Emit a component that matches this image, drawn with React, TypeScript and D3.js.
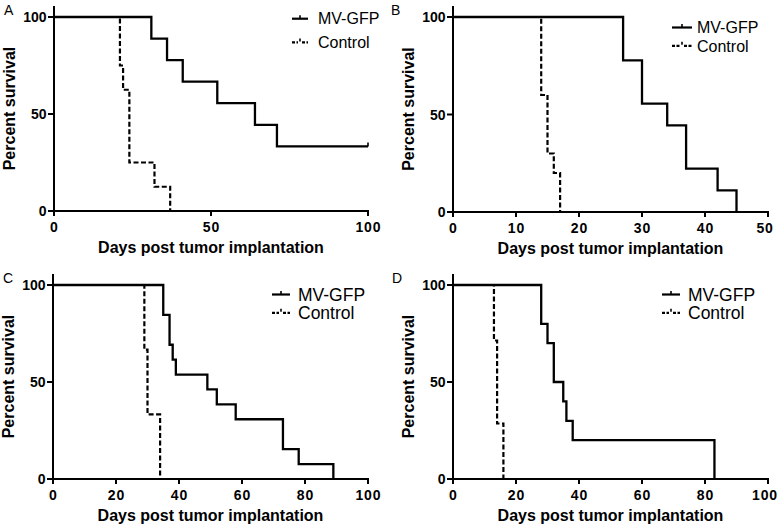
import React from "react";
import * as d3 from "d3";

// ---------- DATA ----------
const A_MV_TIMES = [0, 31, 36, 41, 52, 64, 71, 100];
const A_MV_SURV = [100, 88.9, 77.8, 66.7, 55.6, 44.4, 33.3, 33.3];
const A_CTRL_TIMES = [0, 21, 22, 24, 32, 37];
const A_CTRL_SURV = [100, 75, 62.5, 25, 12.5, 0];
const A_CENSOR = [100];

const B_MV_TIMES = [0, 27, 30, 34, 37, 42, 45];
const B_MV_SURV = [100, 77.8, 55.6, 44.4, 22.2, 11.1, 0];
const B_CTRL_TIMES = [0, 14, 15, 16, 17];
const B_CTRL_SURV = [100, 60, 30, 20, 0];

const C_MV_TIMES = [0, 35, 37, 38, 39, 49, 52, 58, 73, 78, 89];
const C_MV_SURV = [100, 84.6, 69.2, 61.5, 53.8, 46.2, 38.5, 30.8, 15.4, 7.7, 0];
const C_CTRL_TIMES = [0, 29, 30, 34];
const C_CTRL_SURV = [100, 66.7, 33.3, 0];

const D_MV_TIMES = [0, 28, 30, 32, 35, 36, 38, 83];
const D_MV_SURV = [100, 80, 70, 50, 40, 30, 20, 0];
const D_CTRL_TIMES = [0, 13, 14, 16];
const D_CTRL_SURV = [100, 71.4, 28.6, 0];

const PANEL_LETTERS = ["A", "B", "C", "D"];
const SERIES_NAMES = ["MV-GFP", "Control"];
const X_TITLE = "Days post tumor implantation";
const Y_TITLE = "Percent survival";
const Y_TICKS = [0, 50, 100];
const A_X_TICKS = [0, 50, 100];
const B_X_TICKS = [0, 10, 20, 30, 40, 50];
const CD_X_TICKS = [0, 20, 40, 60, 80, 100];

const FONT = "'Liberation Sans', Arial, Helvetica, sans-serif";

type Panel = {
  letter: string;
  letterX: number;
  x0: number;
  x1: number;
  yTop: number;
  yBot: number;
  xMax: number;
  xTicks: number[];
  mvT: number[];
  mvS: number[];
  ctT: number[];
  ctS: number[];
  censor: number[];
  legLine: [number, number];
  legTextX: number;
  legRows: [number, number];
  legFont: number;
};

const panels: Panel[] = [
  {
    letter: PANEL_LETTERS[0], letterX: 4, x0: 54, x1: 368, yTop: 17, yBot: 211, xMax: 100,
    xTicks: A_X_TICKS, mvT: A_MV_TIMES, mvS: A_MV_SURV, ctT: A_CTRL_TIMES, ctS: A_CTRL_SURV,
    censor: A_CENSOR, legLine: [292, 308], legTextX: 318, legRows: [18.7, 42.4], legFont: 16,
  },
  {
    letter: PANEL_LETTERS[1], letterX: 391, x0: 453, x1: 768, yTop: 17, yBot: 212, xMax: 50,
    xTicks: B_X_TICKS, mvT: B_MV_TIMES, mvS: B_MV_SURV, ctT: B_CTRL_TIMES, ctS: B_CTRL_SURV,
    censor: [], legLine: [672, 692], legTextX: 697, legRows: [27.5, 45.8], legFont: 16,
  },
  {
    letter: PANEL_LETTERS[2], letterX: 3, x0: 53, x1: 368, yTop: 285, yBot: 479, xMax: 100,
    xTicks: CD_X_TICKS, mvT: C_MV_TIMES, mvS: C_MV_SURV, ctT: C_CTRL_TIMES, ctS: C_CTRL_SURV,
    censor: [], legLine: [272, 290], legTextX: 298, legRows: [294.5, 312.8], legFont: 17.5,
  },
  {
    letter: PANEL_LETTERS[3], letterX: 392, x0: 453, x1: 768, yTop: 285, yBot: 479, xMax: 100,
    xTicks: CD_X_TICKS, mvT: D_MV_TIMES, mvS: D_MV_SURV, ctT: D_CTRL_TIMES, ctS: D_CTRL_SURV,
    censor: [], legLine: [662, 680], legTextX: 688, legRows: [294.5, 312.8], legFont: 17.5,
  },
];

function PanelView({ p }: { p: Panel }) {
  const x = d3.scaleLinear().domain([0, p.xMax]).range([p.x0, p.x1]);
  const y = d3.scaleLinear().domain([0, 100]).range([p.yBot, p.yTop]);
  const line = d3
    .line<[number, number]>()
    .x((d) => x(d[0]))
    .y((d) => y(d[1]))
    .curve(d3.curveStepAfter);
  const mvPts = p.mvT.map((t, i) => [t, p.mvS[i]] as [number, number]);
  const ctPts = p.ctT.map((t, i) => [t, p.ctS[i]] as [number, number]);
  const axisTop = p.yTop - 11;
  const lastMv = p.mvS[p.mvS.length - 1];
  const [lx1, lx2] = p.legLine;
  const lm = (lx1 + lx2) / 2;
  const capOff = p.legFont * 0.36;
  const ls = 0.8;

  return (
    <g>
      <text x={p.letterX} y={p.yTop - 2} fontFamily={FONT} fontSize={14} fill="#000">
        {p.letter}
      </text>
      {/* curves */}
      <path d={line(ctPts) || ""} fill="none" stroke="#000" strokeWidth={2.2} strokeDasharray="5,2.5" />
      <path d={line(mvPts) || ""} fill="none" stroke="#000" strokeWidth={2.3} />
      {p.censor.map((c, i) => (
        <line key={i} x1={x(c)} x2={x(c)} y1={y(lastMv)} y2={y(lastMv) - 4} stroke="#000" strokeWidth={1.6} />
      ))}
      {/* axes */}
      <line x1={p.x0} x2={p.x0} y1={p.yBot + 1} y2={axisTop} stroke="#000" strokeWidth={2} />
      <line x1={p.x0 - 1} x2={p.x1 + 1} y1={p.yBot} y2={p.yBot} stroke="#000" strokeWidth={2} />
      {Y_TICKS.map((t) => (
        <g key={"y" + t}>
          <line x1={p.x0 - 6} x2={p.x0} y1={y(t)} y2={y(t)} stroke="#000" strokeWidth={2} />
          <text
            x={p.x0 - 7.5}
            y={y(t) + 5}
            textAnchor="end"
            fontFamily={FONT}
            fontWeight="bold"
            fontSize={14}
            fill="#000"
          >
            {t}
          </text>
        </g>
      ))}
      {p.xTicks.map((t) => (
        <g key={"x" + t}>
          <line x1={x(t)} x2={x(t)} y1={p.yBot} y2={p.yBot + 5} stroke="#000" strokeWidth={2} />
          <text
            x={Math.min(x(t) + ls / 2, 765)}
            y={p.yBot + 20.5}
            textAnchor="middle"
            fontFamily={FONT}
            fontWeight="bold"
            fontSize={14}
            letterSpacing={ls}
            fill="#000"
          >
            {t}
          </text>
        </g>
      ))}
      <text
        x={(p.x0 + p.x1) / 2}
        y={p.yBot + 42}
        textAnchor="middle"
        fontFamily={FONT}
        fontWeight="bold"
        fontSize={16}
        fill="#000"
      >
        {X_TITLE}
      </text>
      <text
        transform={`translate(${p.x0 - 39},${(axisTop + p.yBot) / 2}) rotate(-90)`}
        textAnchor="middle"
        fontFamily={FONT}
        fontWeight="bold"
        fontSize={16}
        fill="#000"
      >
        {Y_TITLE}
      </text>
      {/* legend */}
      <line x1={lx1} x2={lx2} y1={p.legRows[0]} y2={p.legRows[0]} stroke="#000" strokeWidth={2.2} />
      <line x1={lm} x2={lm} y1={p.legRows[0]} y2={p.legRows[0] - 3.5} stroke="#000" strokeWidth={1.6} />
      <text x={p.legTextX} y={p.legRows[0] + capOff} fontFamily={FONT} fontSize={p.legFont} fill="#000">
        {SERIES_NAMES[0]}
      </text>
      <line x1={lx1} x2={lm - 2} y1={p.legRows[1]} y2={p.legRows[1]} stroke="#000" strokeWidth={2.2} strokeDasharray="3,1.5" />
      <line x1={lm + 2} x2={lx2} y1={p.legRows[1]} y2={p.legRows[1]} stroke="#000" strokeWidth={2.2} strokeDasharray="3,1.5" />
      <line x1={lm} x2={lm} y1={p.legRows[1] - 1} y2={p.legRows[1] - 4} stroke="#000" strokeWidth={1.6} />
      <text x={p.legTextX} y={p.legRows[1] + capOff} fontFamily={FONT} fontSize={p.legFont} fill="#000">
        {SERIES_NAMES[1]}
      </text>
    </g>
  );
}

export default function App() {
  return (
    <svg
      width={780}
      height={524}
      viewBox="0 0 780 524"
      style={{ position: "absolute", left: 0, top: 0, display: "block", background: "#fff" }}
    >
      <rect x={0} y={0} width={780} height={524} fill="#fff" />
      {panels.map((p) => (
        <PanelView key={p.letter} p={p} />
      ))}
    </svg>
  );
}
